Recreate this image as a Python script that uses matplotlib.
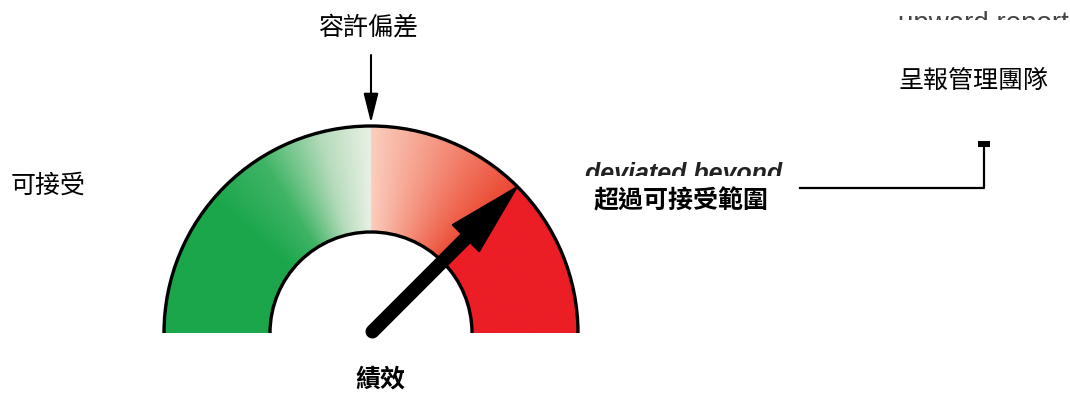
import numpy as np
import matplotlib.pyplot as plt
from matplotlib.colors import LinearSegmentedColormap
from matplotlib.patches import Wedge, Arc, Polygon, Rectangle

# gauge colour zones (0 = left end, 1 = right end)
zone_stops = [0.0, 0.22, 0.32, 0.42, 0.4999, 0.5001, 0.6, 0.745, 0.755, 1.0]
zone_colors = ['#1ba64b', '#1ba64b', '#3fb465', '#b5dbbb', '#eaf0e6',
               '#fbcebf', '#f59a86', '#ec4a33', '#ec1d25', '#ec1d25']
needle_value = 0.75

label_tolerance = '容許偏差'
label_ok = '可接受'
label_over = '超過可接受範圍'
label_report = '呈報管理團隊'
label_perf = '績效'
old_labels = ['deviated beyond', 'upward report']

cjk = ['Noto Sans CJK TC', 'DejaVu Sans']

fig = plt.figure(figsize=(10.7, 3.94), dpi=100)
ax = fig.add_axes([0, 0, 1, 1])
ax.set_xlim(0, 1070)
ax.set_ylim(394, 0)
ax.axis('off')

cx, cy = 371, 333
r_out, r_in = 207, 101

# leftover english text, partly covered by white boxes
ax.text(585, 181, old_labels[0], fontsize=18, fontweight='bold', fontstyle='italic',
        family='Liberation Sans', color='#222222', ha='left', va='baseline', zorder=1)
ax.text(898, 31, old_labels[1], fontsize=20, family='Liberation Sans',
        color='#444444', ha='left', va='baseline', zorder=1)
ax.add_patch(Rectangle((575, 176), 225, 50, facecolor='white', edgecolor='none', zorder=2))
ax.add_patch(Rectangle((873, 20), 197, 120, facecolor='white', edgecolor='none', zorder=2))

# gradient gauge
cmap = LinearSegmentedColormap.from_list('gauge', list(zip(zone_stops, zone_colors)))
xs = np.linspace(cx - r_out, cx + r_out, 800)
ys = np.linspace(cy - r_out, cy, 400)
X, Y = np.meshgrid(xs, ys)
phi = np.arctan2(cy - Y, X - cx)
t = 1 - phi / np.pi
im = ax.imshow(t, cmap=cmap, vmin=0, vmax=1, origin='upper',
               extent=(cx - r_out, cx + r_out, cy, cy - r_out),
               interpolation='bilinear', zorder=3, aspect='auto')
clip = Wedge((cx, cy), r_out, 180, 360, width=r_out - r_in,
             facecolor='none', edgecolor='none', transform=ax.transData)
ax.add_patch(clip)
im.set_clip_path(clip)

ax.add_patch(Arc((cx, cy), 2 * r_out, 2 * r_out, theta1=180, theta2=360,
                 lw=2.4, color='black', zorder=4))
ax.add_patch(Arc((cx, cy), 2 * r_in, 2 * r_in, theta1=180, theta2=360,
                 lw=2.4, color='black', zorder=4))

# needle
ang = np.pi * (1 - needle_value)
u = np.array([np.cos(ang), -np.sin(ang)])
p = np.array([np.sin(ang), np.cos(ang)])
c = np.array([cx, cy])
tip = c + r_out * u
base = tip - 73 * u
tail = c + 2 * u
ax.plot([tail[0], base[0] + 5 * u[0]], [tail[1], base[1] + 5 * u[1]],
        color='black', lw=10, solid_capstyle='round', zorder=5)
ax.add_patch(Polygon([tip, base + 19 * p, base - 19 * p], closed=True,
                     facecolor='black', edgecolor='black', lw=1, zorder=5))

# tolerance arrow
ax.annotate('', xy=(cx, 123), xytext=(cx, 55),
            arrowprops=dict(arrowstyle='-|>,head_length=1.2,head_width=0.3',
                            color='black', lw=1.5, mutation_scale=15,
                            shrinkA=0, shrinkB=0), zorder=5)

# connector to management
ax.plot([800, 984, 984], [188, 188, 146], color='black', lw=1.6, zorder=5)
ax.add_patch(Rectangle((978, 141), 12, 6, facecolor='black', edgecolor='none', zorder=5))

# labels
ax.text(368, 27, label_tolerance, fontsize=18, family=cjk, ha='center', va='center', zorder=6)
ax.text(48, 186, label_ok, fontsize=18, family=cjk, ha='center', va='center', zorder=6)
ax.text(681, 201, label_over, fontsize=18, family=cjk, fontweight='bold',
        ha='center', va='center', zorder=6)
ax.text(973, 81, label_report, fontsize=18, family=cjk, ha='center', va='center', zorder=6)
ax.text(380, 380, label_perf, fontsize=18, family=cjk, fontweight='bold',
        ha='center', va='center', zorder=6)

fig.savefig('out.png', dpi=100, facecolor='white')
